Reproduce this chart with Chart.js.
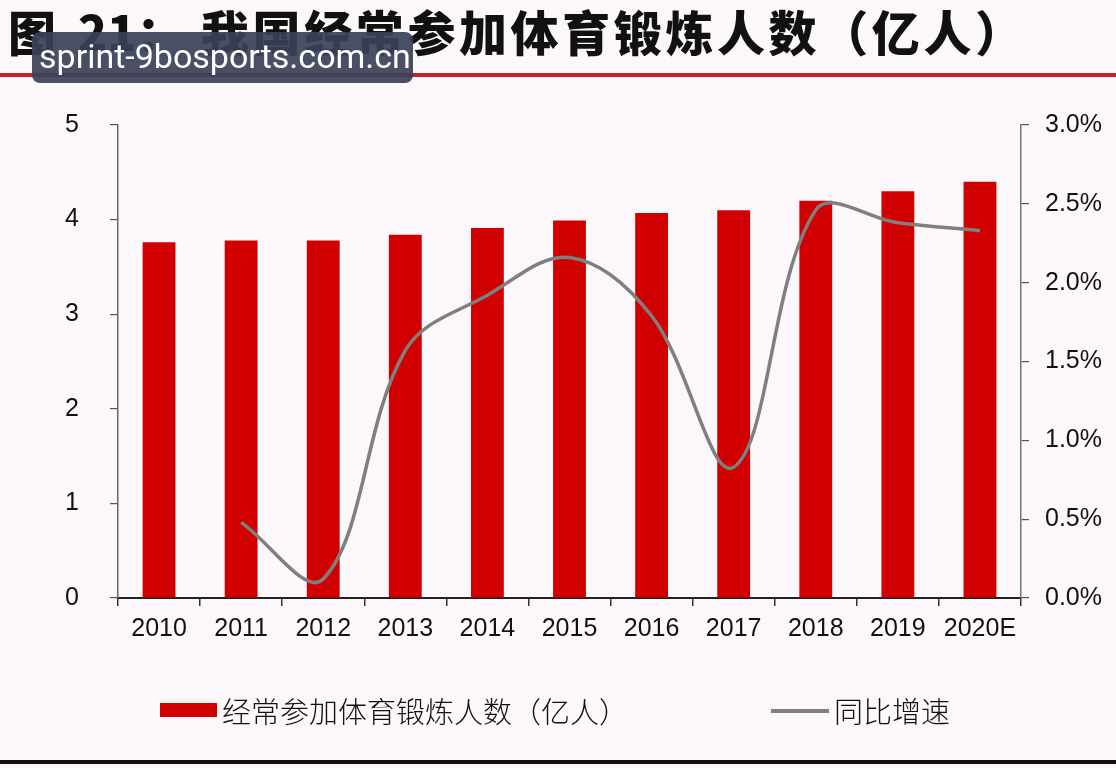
<!DOCTYPE html>
<html>
<head>
<meta charset="utf-8">
<script src="https://cdn.jsdelivr.net/npm/chart.js@4"></script>
<style>
  html, body { margin:0; padding:0; background:#FBF7FB; }
  #wrap { position:relative; width:1116px; height:768px; overflow:hidden; background:#FBF7FB; }
  #chart { position:absolute; left:0; top:0; }
  .t { position:absolute; font-family:"Noto Sans CJK SC", sans-serif; font-weight:900; font-size:48px; line-height:48px; color:#111; white-space:pre; }
  #redline { position:absolute; left:0; top:73px; width:1116px; height:4px; background:#BF2228; }
  #botline { position:absolute; left:0; top:760px; width:1116px; height:4px; background:#111; }
  #wm { position:absolute; left:32px; top:32px; width:381px; height:51px; border-radius:8px; background:rgba(58,64,88,0.92); }
  #wm span { position:absolute; left:7px; top:5px; font-family:Roboto, "Liberation Sans", sans-serif; font-size:34px; line-height:38px; color:#fff; white-space:pre; }
  .lg { position:absolute; font-family:"Noto Sans CJK SC", sans-serif; font-weight:300; font-size:29px; line-height:29px; color:#111; white-space:pre; }
  .box { position:absolute; }
</style>
</head>
<body>
<div id="wrap">
  <canvas id="chart" width="1116" height="768"></canvas>
  <div class="t" style="left:8px; top:6px;">图</div>
  <div class="t" style="left:78px; top:6px;">21：</div>
  <div class="t" style="left:201px; top:6px; letter-spacing:3.6px;">我国经常参加体育锻炼人数（亿人）</div>
  <div id="redline"></div>
  <div id="wm"><span>sprint-9bosports.com.cn</span></div>
  <div class="box" style="left:160px; top:703px; width:57px; height:14px; background:#D00000;"></div>
  <div class="lg" style="left:222px; top:696px;">经常参加体育锻炼人数（亿人）</div>
  <div class="box" style="left:771px; top:709px; width:58px; height:4px; background:#7F7F7F;"></div>
  <div class="lg" style="left:834px; top:696px;">同比增速</div>
  <div id="botline"></div>
</div>
<script>
const categories = ['2010','2011','2012','2013','2014','2015','2016','2017','2018','2019','2020E'];
const participants = [3.76, 3.78, 3.78, 3.84, 3.91, 3.99, 4.07, 4.10, 4.20, 4.30, 4.40];
const growthPct = [null, 0.48, 0.12, 1.57, 1.92, 2.16, 1.79, 0.83, 2.46, 2.38, 2.33];
const leftTicks = [0, 1, 2, 3, 4, 5];
const rightTicks = [0, 0.5, 1.0, 1.5, 2.0, 2.5, 3.0];

const W = 1116, H = 768;
const AREA = { left:118, right:1021, top:125, bottom:598 };
const XH = 60;

new Chart(document.getElementById('chart'), {
  data: {
    labels: categories,
    datasets: [
      {
        type: 'line',
        label: '同比增速',
        data: growthPct,
        yAxisID: 'y1',
        borderColor: '#7F7F7F',
        borderWidth: 3.5,
        pointRadius: 0,
        tension: 0.36,
        fill: false,
        order: 0
      },
      {
        type: 'bar',
        label: '经常参加体育锻炼人数（亿人）',
        data: participants,
        yAxisID: 'y',
        backgroundColor: '#D00000',
        borderWidth: 0,
        categoryPercentage: 1.0,
        barPercentage: 0.4,
        order: 1
      }
    ]
  },
  options: {
    responsive: false,
    animation: false,
    devicePixelRatio: 1,
    layout: { padding: { top: AREA.top, bottom: H - AREA.bottom - XH, left: 0, right: 0 } },
    plugins: { legend: { display: false }, tooltip: { enabled: false } },
    scales: {
      x: {
        afterFit: s => { s.height = XH; },
        grid: { display: true, drawOnChartArea: false, drawTicks: true, tickLength: 8, color: '#333', lineWidth: 1.5, offset: true },
        border: { display: true, color: '#222', width: 2 },
        ticks: { color: '#111', padding: 8, font: { family: 'Liberation Sans, Arial, sans-serif', size: 25 } }
      },
      y: {
        position: 'left',
        min: 0, max: 5,
        afterFit: s => { s.width = AREA.left; },
        afterBuildTicks: s => { s.ticks = leftTicks.map(v => ({ value: v })); },
        grid: { display: true, drawOnChartArea: false, drawTicks: true, tickLength: 8, color: '#555', lineWidth: 1.2 },
        border: { display: true, color: '#666', width: 1.5 },
        ticks: { color: '#111', padding: 31, font: { family: 'Liberation Sans, Arial, sans-serif', size: 25 } }
      },
      y1: {
        position: 'right',
        min: 0, max: 3,
        afterFit: s => { s.width = W - AREA.right; },
        afterBuildTicks: s => { s.ticks = rightTicks.map(v => ({ value: v })); },
        grid: { display: true, drawOnChartArea: false, drawTicks: true, tickLength: 8, color: '#555', lineWidth: 1.2 },
        border: { display: true, color: '#777', width: 1.5 },
        ticks: { color: '#111', padding: 16, font: { family: 'Liberation Sans, Arial, sans-serif', size: 25 },
                 callback: v => Number(v).toFixed(1) + '%' }
      }
    }
  }
});
</script>
</body>
</html>
